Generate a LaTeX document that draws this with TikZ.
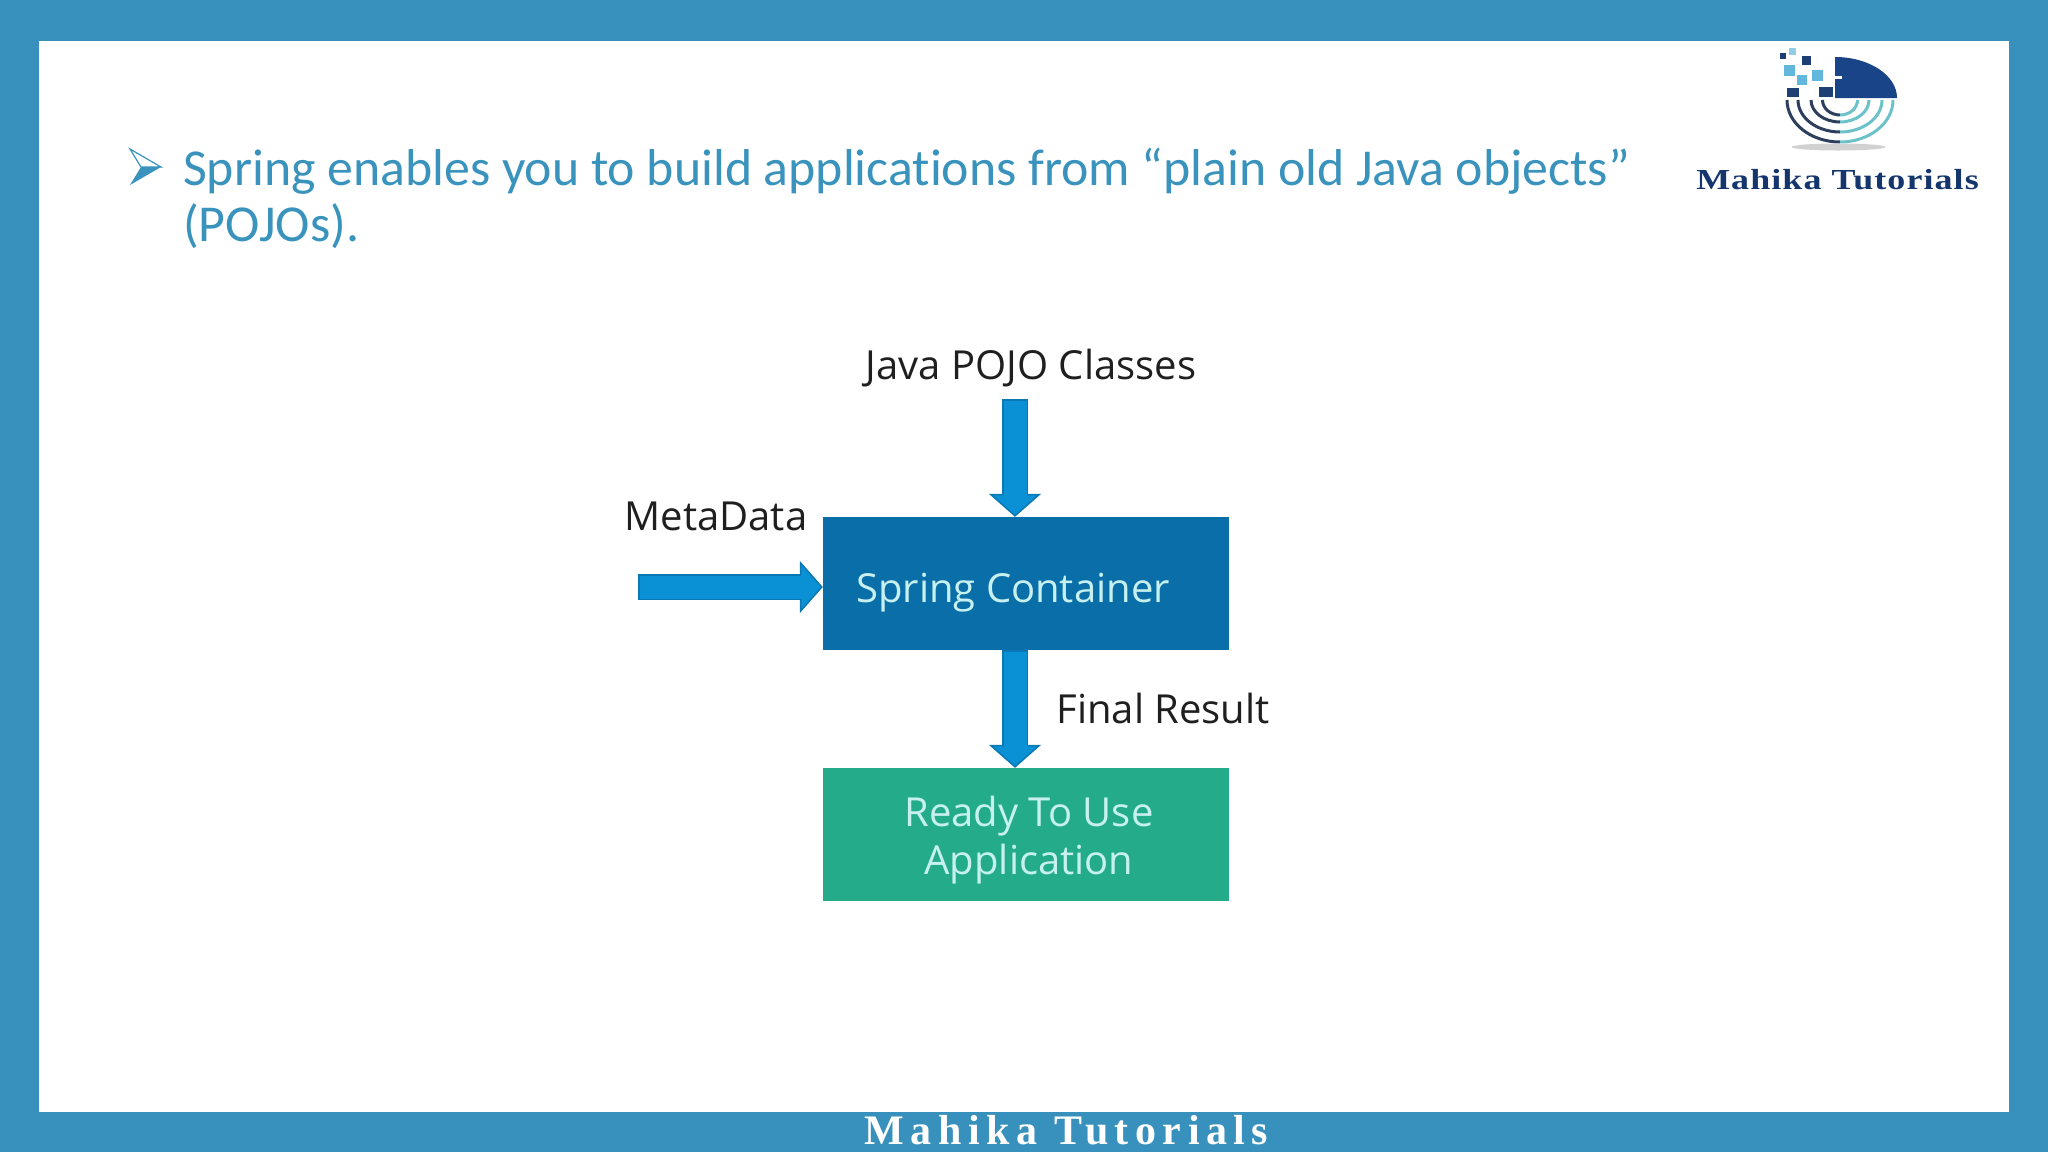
\documentclass[tikz,border=0pt]{standalone}
\usepackage{fontspec}
\usetikzlibrary{arrows.meta}
\setmainfont{Open Sans}
\newfontfamily\titlefont[Ligatures=NoCommon]{Carlito}
\newfontfamily\logofont[LetterSpace=3]{Liberation Serif}
\newfontfamily\footfont[LetterSpace=15.5]{Liberation Serif}
\definecolor{framec}{HTML}{3891BC}
\definecolor{titlec}{HTML}{3A93BC}
\definecolor{springc}{HTML}{0A6EA8}
\definecolor{readyc}{HTML}{24AC8A}
\definecolor{arrowc}{HTML}{0A90D4}
\definecolor{arrowedge}{HTML}{0A78B4}
\definecolor{boxtext}{HTML}{C6F1F0}
\definecolor{navy}{HTML}{1A4488}
\definecolor{ringdark}{HTML}{2E3F5E}
\definecolor{ringlight}{HTML}{6CC2C8}
\definecolor{sqlight}{HTML}{62B7DC}
\definecolor{sqdark}{HTML}{1D3F74}
\tikzset{
  box/.style={draw=none,minimum width=406pt,minimum height=133pt,inner sep=0pt},
  boxlbl/.style={inner sep=0pt,text=boxtext,align=center,font=\fontsize{40}{48}\selectfont},
  lbl/.style={inner sep=0pt,text=black!88,font=\fontsize{40}{48}\selectfont},
  fat/.style={draw=arrowedge,line width=26pt,-{Triangle[width=52pt,length=23pt,fill=arrowc,line width=1.5pt]},
     postaction={draw=arrowc,line width=23pt,-,shorten >=20pt,shorten <=1.5pt}},
  sq/.style={minimum size=10pt,inner sep=0pt,draw=none},
  ttl/.style={anchor=west,inner sep=0pt,text=titlec,font=\titlefont\fontsize{51.8}{56}\selectfont},
}
\begin{document}
\begin{tikzpicture}[x=1pt,y=-1pt]
\useasboundingbox (0,0) rectangle (2048,1152);
\fill[framec] (0,0) rectangle (2048,1152);
\fill[white] (39,41) rectangle (2009,1112);
% bullet
\draw[titlec,line width=1.2pt,line join=miter] (130,149) -- (161,167) -- (141,167) -- cycle;
\fill[titlec] (130,185) -- (161,167) -- (141,167) -- cycle;
% title
\node[ttl] (t1) at (183,171.5) {Spring enables you to build applications from “plain old Java objects”};
\node[ttl] (t2) at (183,226) {(POJOs).};
% logo
\fill[navy] (1835,57) arc[start angle=-90,end angle=0,x radius=62,y radius=41] -- (1835,98) -- cycle;
\fill[white] (1835,76) rectangle (1842,79);
\foreach \rx/\ry in {53/42,42/32,29/22,17.5/15}{
  \draw[ringdark,line width=3pt] (1840-\rx,100) arc[start angle=180,end angle=90,x radius=\rx,y radius=\ry];
  \draw[ringlight,line width=3pt] (1840+\rx,100) arc[start angle=0,end angle=90,x radius=\rx,y radius=\ry];
}
\fill[black!18] (1838.5,147) ellipse[x radius=47,y radius=3.5];
\node[sq,fill=sqlight!70,minimum size=7pt] (s1) at (1792,51) {};
\node[sq,fill=sqdark,minimum size=6pt] (s2) at (1783,56) {};
\node[sq,fill=sqdark,minimum size=9pt] (s3) at (1806,60) {};
\node[sq,fill=sqlight,minimum size=11pt] (s4) at (1789,70) {};
\node[sq,fill=sqlight,minimum size=11pt] (s5) at (1817,75) {};
\node[sq,fill=sqlight,minimum size=10pt] (s6) at (1802,80) {};
\node[sq,fill=sqdark,minimum width=12pt,minimum height=9pt] (s7) at (1793,92) {};
\node[sq,fill=sqdark,minimum width=14pt,minimum height=10pt] (s8) at (1826,92) {};
\node[inner sep=0pt,text=navy!80!black,font=\logofont\bfseries\fontsize{29}{32}\selectfont] (lg) at (1837.5,180) {\scalebox{1.24}[1]{Mahika Tutorials}};
% boxes
\node[box,fill=springc] (spring) at (1026,583.5) {};
\node[box,fill=readyc] (ready) at (1026,834.5) {};
\node[boxlbl] (springt) at (1013,593) {Spring Container};
\node[boxlbl] (readyt) at (1029,840) {Ready To Use\\Application};
% labels
\node[lbl] (java) at (1031,368.5) {Java POJO Classes};
\node[lbl] (meta) at (716,516) {MetaData};
\node[lbl] (final) at (1163,708) {Final Result};
% connectors
\coordinate (javaStart) at (1015,399);
\coordinate (metaStart) at (638,587);
\draw[fat] (javaStart) -- (javaStart |- spring.north);
\draw[fat] (metaStart) -- (metaStart -| spring.west);
\draw[fat] (javaStart |- spring.south) -- (javaStart |- ready.north);
% footer
\node[inner sep=0pt,text=white,font=\footfont\bfseries\fontsize{42}{46}\selectfont] (foot) at (1066.5,1130) {Mahika Tutorials};
\end{tikzpicture}
\end{document}
